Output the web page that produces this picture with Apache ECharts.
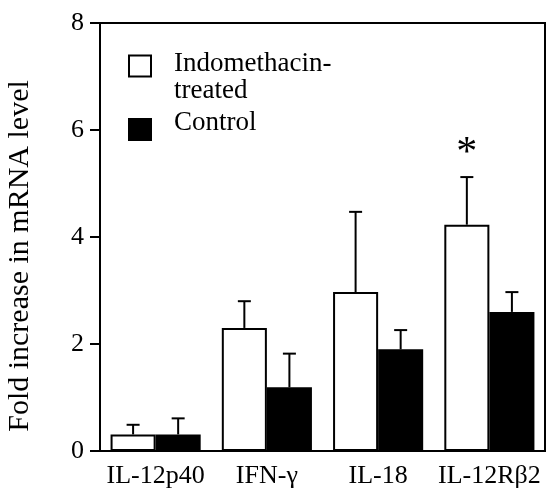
<!DOCTYPE html>
<html>
<head>
<meta charset="utf-8">
<script src="https://cdn.jsdelivr.net/npm/echarts@6/dist/echarts.min.js"></script>
<style>
  html, body { margin: 0; padding: 0; background: #fff; }
  #chart { width: 555px; height: 491px; }
</style>
</head>
<body>
<div id="chart"></div>
<script>
// Fold increase in mRNA level, indomethacin-treated vs control, with upward-only error bars.
const categories = ["IL-12p40", "IFN-\u03b3", "IL-18", "IL-12R\u03b22"];
const treated = [0.31, 2.30, 2.97, 4.23];
const treatedUpper = [0.49, 2.80, 4.47, 5.12];
const control = [0.31, 1.19, 1.90, 2.60];
const controlUpper = [0.61, 1.82, 2.26, 2.97];
const treatedMarks = ["", "", "", "*"];
const yTicks = [0, 2, 4, 6, 8];

const FONT = "'Liberation Serif', 'Times New Roman', serif";
const GAP = 0.19; // barCategoryGap as fraction

function errRender(sign, upper, marks) {
  return (params, api) => {
    const i = api.value(0);
    const base = api.coord([i, api.value(1)]);
    const top = api.coord([i, upper[i]]);
    const band = api.size([1, 0])[0];
    const cx = base[0] + sign * band * (1 - GAP) / 4;
    const line = { stroke: "#000", lineWidth: 2 };
    const children = [
      { type: "line", shape: { x1: cx, y1: base[1], x2: cx, y2: top[1] }, style: line },
      { type: "line", shape: { x1: cx - 6.5, y1: top[1], x2: cx + 6.5, y2: top[1] }, style: line },
    ];
    if (marks && marks[i]) {
      children.push({
        type: "text",
        style: { text: marks[i], x: cx, y: top[1] - 23, fill: "#000", font: "42px " + FONT, align: "center", verticalAlign: "middle" },
      });
    }
    return { type: "group", children };
  };
}

const legendText = { fontFamily: FONT, fontSize: 27, lineHeight: 27, color: "#000" };

const chart = echarts.init(document.getElementById("chart"), null, { renderer: "canvas" });
chart.setOption({
  animation: false,
  backgroundColor: "#fff",
  textStyle: { fontFamily: FONT, color: "#000" },
  grid: { left: 100, right: 10, top: 23, bottom: 40, outerBoundsMode: "none", show: true, borderColor: "#000", borderWidth: 2 },
  legend: [
    {
      data: ["Indomethacin-treated"],
      left: 128, top: 28, padding: 0,
      icon: "rect", itemWidth: 22, itemHeight: 21,
      formatter: () => "{s| }\n{a|Indomethacin-}\n{a|treated}",
      textStyle: { ...legendText, padding: [0, 0, 0, 18], rich: { a: legendText, s: { fontSize: 10, lineHeight: 22 } } },
    },
    {
      data: ["Control"],
      left: 128, top: 109, padding: 0,
      icon: "rect", itemWidth: 22, itemHeight: 21,
      formatter: (name) => "{a|" + name + "}\n{s| }",
      textStyle: { ...legendText, padding: [0, 0, 0, 18], rich: { a: legendText, s: { fontSize: 10, lineHeight: 14 } } },
    },
  ],
  xAxis: {
    type: "category",
    data: categories,
    axisLine: { lineStyle: { color: "#000", width: 2 } },
    axisTick: { alignWithLabel: true, length: 9, lineStyle: { color: "#000", width: 2 } },
    axisLabel: { color: "#000", fontFamily: FONT, fontSize: 26, margin: 12, interval: 0 },
  },
  yAxis: {
    type: "value",
    min: yTicks[0], max: yTicks[yTicks.length - 1], interval: 2,
    name: "Fold increase in mRNA level",
    nameLocation: "middle",
    nameGap: 65,
    nameTextStyle: { color: "#000", fontFamily: FONT, fontSize: 30, padding: [0, 38, 0, 0] },
    axisLine: { show: true, lineStyle: { color: "#000", width: 2 } },
    axisTick: { show: true, length: 10, lineStyle: { color: "#000", width: 2 } },
    axisLabel: { color: "#000", fontFamily: FONT, fontSize: 26, margin: 16 },
    splitLine: { show: false },
  },
  series: [
    {
      name: "Indomethacin-treated",
      type: "bar",
      data: treated,
      barGap: "0%",
      barCategoryGap: GAP * 100 + "%",
      itemStyle: { color: "#fff", borderColor: "#000", borderWidth: 2 },
    },
    {
      name: "Control",
      type: "bar",
      data: control,
      itemStyle: { color: "#000", borderColor: "#000", borderWidth: 2 },
    },
    {
      type: "custom",
      renderItem: errRender(-1, treatedUpper, treatedMarks),
      data: treated.map((v, i) => [i, v]),
      encode: { x: 0, y: 1 },
      z: 5,
    },
    {
      type: "custom",
      renderItem: errRender(1, controlUpper, null),
      data: control.map((v, i) => [i, v]),
      encode: { x: 0, y: 1 },
      z: 5,
    },
  ],
});
</script>
</body>
</html>
